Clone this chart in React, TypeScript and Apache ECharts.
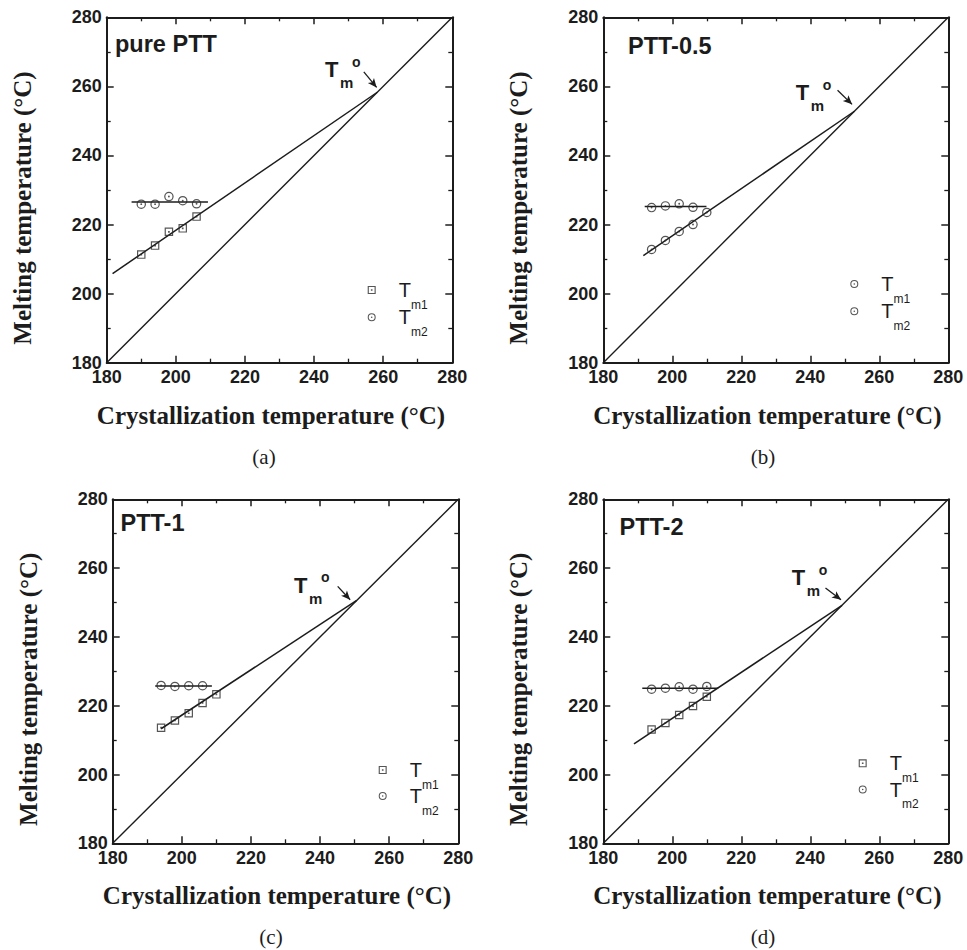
import React, { useEffect, useRef } from 'react';
import * as echarts from 'echarts';

// ---------- data ----------
const AXIS_MIN = 180;
const AXIS_MAX = 280;
const AXIS_STEP = 20;
const DIAGONAL = [[180, 180], [280, 280]];

// (a) pure PTT
const A_TC1 = [190, 194, 198, 202, 206];
const A_TM1 = [211.3, 213.9, 217.9, 218.9, 222.3];
const A_TC2 = [190, 194, 198, 202, 206];
const A_TM2 = [225.9, 225.9, 228.1, 226.9, 226.0];
const A_FIT1 = [[181.7, 205.8], [258.3, 258.3]];
const A_FIT2 = [[187.2, 226.5], [209.3, 226.5]];
const A_ARROW = [[254.4, 264.2], [258.1, 259.7]];

// (b) PTT-0.5
const B_TC1 = [194, 198, 202, 206, 210];
const B_TM1 = [212.8, 215.4, 218.0, 220.0, 223.5];
const B_TC2 = [194, 198, 202, 206];
const B_TM2 = [224.9, 225.4, 226.0, 225.0];
const B_FIT1 = [[191.6, 211.0], [252.8, 252.8]];
const B_FIT2 = [[192.0, 225.2], [209.9, 225.2]];
const B_ARROW = [[247.9, 258.9], [252.1, 254.8]];

// (c) PTT-1
const C_TC1 = [194, 198, 202, 206, 210];
const C_TM1 = [213.6, 215.7, 217.8, 220.8, 223.3];
const C_TC2 = [194, 198, 202, 206];
const C_TM2 = [225.9, 225.6, 225.8, 225.8];
const C_FIT1 = [[194.0, 213.3], [250.6, 250.6]];
const C_FIT2 = [[192.3, 225.7], [208.7, 225.7]];
const C_ARROW = [[245.1, 254.7], [248.7, 250.8]];

// (d) PTT-2
const D_TC1 = [194, 198, 202, 206, 210];
const D_TM1 = [213.1, 215.0, 217.3, 219.9, 222.6];
const D_TC2 = [194, 198, 202, 206, 210];
const D_TM2 = [224.8, 225.1, 225.5, 224.8, 225.6];
const D_FIT1 = [[188.9, 208.9], [249.2, 249.2]];
const D_FIT2 = [[191.3, 225.1], [213.3, 225.1]];
const D_ARROW = [[244.4, 254.2], [248.9, 250.8]];

const X_NAME = 'Crystallization temperature (°C)';
const Y_NAME = 'Melting temperature (°C)';
const PANEL_LABELS = ['pure PTT', 'PTT-0.5', 'PTT-1', 'PTT-2'];
const CAPTIONS = ['(a)', '(b)', '(c)', '(d)'];

// ---------- styling ----------
const INK = '#1c1c1c';
const SANS = '"Liberation Sans", Arial, Helvetica, sans-serif';
const SERIF = '"Liberation Serif", "Times New Roman", serif';

const SQ = 'path://M0 0L100 0L100 100L0 100Z M14 14L14 86L86 86L86 14Z M40 40L60 40L60 60L40 60Z';
const CI = 'path://M50 0A50 50 0 1 1 50 100A50 50 0 1 1 50 0Z M50 13A37 37 0 1 0 50 87A37 37 0 1 0 50 13Z M50 40A10 10 0 1 1 50 60A10 10 0 1 1 50 40Z';

type Panel = {
  key: string;
  tc1: number[]; tm1: number[]; tc2: number[]; tm2: number[];
  fit1: number[][]; fit2: number[][]; arrow: number[][];
  sym1: string; sym2: string;
  grid: { left: number; top: number; width: number; height: number };
  label: string; labelPos: [number, number];
  tmPos: [number, number];
  legendPos: [number, number]; legendRow: number;
  yNameGap: number;
  caption: string; captionPos: [number, number];
};

const PANELS: Panel[] = [
  {
    key: 'a', tc1: A_TC1, tm1: A_TM1, tc2: A_TC2, tm2: A_TM2, fit1: A_FIT1, fit2: A_FIT2, arrow: A_ARROW,
    sym1: SQ, sym2: CI,
    grid: { left: 106.7, top: 17.3, width: 345.6, height: 345.4 },
    label: PANEL_LABELS[0], labelPos: [115, 44],
    tmPos: [325, 69.7],
    legendPos: [371.7, 290], legendRow: 27.7,
    yNameGap: 72,
    caption: CAPTIONS[0], captionPos: [264, 457],
  },
  {
    key: 'b', tc1: B_TC1, tm1: B_TM1, tc2: B_TC2, tm2: B_TM2, fit1: B_FIT1, fit2: B_FIT2, arrow: B_ARROW,
    sym1: CI, sym2: CI,
    grid: { left: 603.3, top: 17.3, width: 345, height: 345.4 },
    label: PANEL_LABELS[1], labelPos: [628, 45.5],
    tmPos: [795.7, 92.8],
    legendPos: [854.3, 284], legendRow: 27.7,
    yNameGap: 72,
    caption: CAPTIONS[1], captionPos: [763, 457],
  },
  {
    key: 'c', tc1: C_TC1, tm1: C_TM1, tc2: C_TC2, tm2: C_TM2, fit1: C_FIT1, fit2: C_FIT2, arrow: C_ARROW,
    sym1: SQ, sym2: CI,
    grid: { left: 112.7, top: 499.3, width: 345.6, height: 344 },
    label: PANEL_LABELS[2], labelPos: [120.5, 522.5],
    tmPos: [294, 585],
    legendPos: [382.7, 770], legendRow: 26.5,
    yNameGap: 72,
    caption: CAPTIONS[2], captionPos: [271, 937],
  },
  {
    key: 'd', tc1: D_TC1, tm1: D_TM1, tc2: D_TC2, tm2: D_TM2, fit1: D_FIT1, fit2: D_FIT2, arrow: D_ARROW,
    sym1: SQ, sym2: CI,
    grid: { left: 603.3, top: 499.3, width: 345, height: 344 },
    label: PANEL_LABELS[3], labelPos: [619.5, 526.5],
    tmPos: [791.7, 577.5],
    legendPos: [862.7, 763.3], legendRow: 26.7,
    yNameGap: 72,
    caption: CAPTIONS[3], captionPos: [763, 937],
  },
];

function axis(gridIndex: number, position: string, main: boolean, isX: boolean, yNameGap: number) {
  const a: any = {
    type: 'value',
    gridIndex,
    position,
    min: AXIS_MIN,
    max: AXIS_MAX,
    interval: AXIS_STEP,
    axisLine: { show: true, onZero: false, lineStyle: { color: INK, width: 2 } },
    axisTick: { show: true, inside: true, length: 7, lineStyle: { color: INK, width: 1.5 } },
    minorTick: { show: true, splitNumber: 2, length: 4, lineStyle: { color: INK, width: 1.3 } },
    splitLine: { show: false },
    minorSplitLine: { show: false },
    axisLabel: {
      show: main,
      showMinLabel: true,
      showMaxLabel: true,
      fontFamily: SANS,
      fontWeight: 'bold',
      fontSize: 18,
      lineHeight: 14,
      color: INK,
      margin: isX ? 7.5 : 5,
    },
  };
  if (main) {
    a.nameLocation = 'middle';
    if (isX) {
      a.name = X_NAME;
      a.nameGap = 40;
      a.nameTextStyle = { fontFamily: SERIF, fontWeight: 'bold', fontSize: 25, color: INK, padding: [0, 17, 0, 0] };
    } else {
      a.name = Y_NAME;
      a.nameGap = yNameGap;
      a.nameTextStyle = { fontFamily: SERIF, fontWeight: 'bold', fontSize: 25, color: INK, padding: [0, 36, 0, 0] };
    }
  }
  return a;
}

function buildOption() {
  const grid: any[] = [];
  const xAxis: any[] = [];
  const yAxis: any[] = [];
  const series: any[] = [];
  const legend: any[] = [];
  const graphic: any[] = [];

  PANELS.forEach((p, i) => {
    grid.push({ ...p.grid, containLabel: false, outerBoundsMode: 'none' });
    xAxis.push(axis(i, 'bottom', true, true, 0));
    xAxis.push(axis(i, 'top', false, true, 0));
    yAxis.push(axis(i, 'left', true, false, p.yNameGap));
    yAxis.push(axis(i, 'right', false, false, 0));
    const xi = 2 * i;
    const yi = 2 * i;

    series.push({
      type: 'line', xAxisIndex: xi, yAxisIndex: yi, data: DIAGONAL, symbol: 'none', silent: true,
      lineStyle: { color: INK, width: 1.4 }, z: 2,
      markLine: {
        silent: true,
        symbol: ['none', 'arrow'],
        symbolSize: [6, 9],
        label: { show: false },
        lineStyle: { color: INK, width: 1.3, type: 'solid' },
        data: [[{ coord: p.arrow[0] }, { coord: p.arrow[1] }]],
      },
    });
    series.push({
      type: 'line', xAxisIndex: xi, yAxisIndex: yi, data: p.fit1, symbol: 'none', silent: true,
      lineStyle: { color: INK, width: 1.5 }, z: 2,
    });
    series.push({
      type: 'line', xAxisIndex: xi, yAxisIndex: yi, data: p.fit2, symbol: 'none', silent: true,
      lineStyle: { color: INK, width: 1.5 }, z: 2,
    });
    series.push({
      type: 'scatter', name: `${p.key}-Tm1`, xAxisIndex: xi, yAxisIndex: yi,
      data: p.tc1.map((x, j) => [x, p.tm1[j]]),
      symbol: p.sym1, symbolSize: p.sym1 === SQ ? 8.5 : 9.5,
      itemStyle: { color: '#2a2a2a' }, z: 5,
    });
    series.push({
      type: 'scatter', name: `${p.key}-Tm2`, xAxisIndex: xi, yAxisIndex: yi,
      data: p.tc2.map((x, j) => [x, p.tm2[j]]),
      symbol: p.sym2, symbolSize: p.sym2 === SQ ? 8.5 : 9.5,
      itemStyle: { color: '#2a2a2a' }, z: 5,
    });

    legend.push({
      orient: 'vertical',
      left: p.legendPos[0] - 4,
      top: p.legendPos[1] - 10,
      padding: 0,
      itemWidth: 8,
      itemHeight: 8,
      itemGap: p.legendRow - 31,
      selectedMode: false,
      data: [
        { name: `${p.key}-Tm1`, icon: p.sym1 },
        { name: `${p.key}-Tm2`, icon: p.sym2 },
      ],
      formatter: (name: string) => `{sp| }{t|T}{s|${name.endsWith('Tm1') ? 'm1' : 'm2'}}`,
      textStyle: {
        color: INK,
        rich: {
          sp: { width: 18, fontSize: 12 },
          t: { fontSize: 20, fontFamily: SANS, color: INK, lineHeight: 20, verticalAlign: 'middle' },
          s: { fontSize: 12, fontFamily: SANS, color: INK, lineHeight: 12, padding: [18.5, 0, 0, 0], verticalAlign: 'top' },
        },
      },
    });

    graphic.push({
      type: 'text', x: p.labelPos[0], y: p.labelPos[1], silent: true,
      style: { text: p.label, fontFamily: SANS, fontWeight: 'bold', fontSize: 23.5, fill: INK, align: 'left', verticalAlign: 'middle' },
    });
    graphic.push({
      type: 'group', x: p.tmPos[0], y: p.tmPos[1], silent: true,
      children: [
        { type: 'text', x: 0, y: 0, style: { text: 'T', fontFamily: SANS, fontWeight: 'bold', fontSize: 22, fill: INK, align: 'left', verticalAlign: 'middle' } },
        { type: 'text', x: 15, y: 13, style: { text: 'm', fontFamily: SANS, fontWeight: 'bold', fontSize: 15, fill: INK, align: 'left', verticalAlign: 'middle' } },
        { type: 'text', x: 27, y: -8, style: { text: 'o', fontFamily: SANS, fontWeight: 'bold', fontSize: 14, fill: INK, align: 'left', verticalAlign: 'middle' } },
      ],
    });
    graphic.push({
      type: 'text', x: p.captionPos[0], y: p.captionPos[1], silent: true,
      style: { text: p.caption, fontFamily: SERIF, fontSize: 21, fill: INK, align: 'center', verticalAlign: 'middle' },
    });
  });

  return {
    animation: false,
    backgroundColor: '#ffffff',
    grid,
    xAxis,
    yAxis,
    legend,
    series,
    graphic,
    tooltip: { show: false },
  };
}

export default function App() {
  const ref = useRef<HTMLDivElement>(null);
  useEffect(() => {
    if (!ref.current) return;
    const chart = echarts.init(ref.current, null, { renderer: 'svg' });
    chart.setOption(buildOption() as any);
    return () => chart.dispose();
  }, []);
  return (
    <div
      ref={ref}
      style={{ position: 'absolute', left: 0, top: 0, width: 967, height: 950, background: '#fff' }}
    />
  );
}
